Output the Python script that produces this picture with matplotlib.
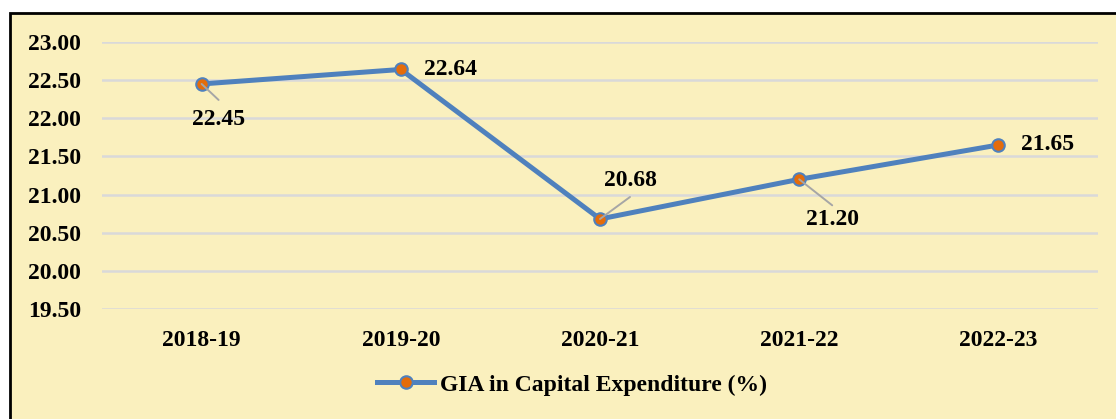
import matplotlib.pyplot as plt
from matplotlib.patches import Rectangle

years = ['2018-19', '2019-20', '2020-21', '2021-22', '2022-23']
gia_capex = [22.45, 22.64, 20.68, 21.20, 21.65]
y_ticks = [19.50, 20.00, 20.50, 21.00, 21.50, 22.00, 22.50, 23.00]

plt.rcParams['font.family'] = ['Liberation Serif', 'DejaVu Serif']
plt.rcParams['font.weight'] = 'bold'

bg = '#FAF0BE'
fs = 17
fig = plt.figure(figsize=(11.16, 4.19), dpi=100)

# framed chart area, drawn behind the axes
fig.patches.append(Rectangle((9.5 / 1116, -0.01), 1.0, 1 - 13.5 / 419 + 0.01,
                             transform=fig.transFigure, facecolor=bg,
                             edgecolor='black', linewidth=2, zorder=-10))

ax = fig.add_axes([102 / 1116, 1 - 309 / 419, 996 / 1116, 267 / 419])
ax.set_facecolor('none')

x = list(range(len(years)))
ax.plot(x, gia_capex, color='#4F81BD', linewidth=3.6, marker='o',
        markersize=9, markerfacecolor='#E46C0A', markeredgecolor='#4F81BD',
        markeredgewidth=1.5, label='GIA in Capital Expenditure (%)', zorder=3)

ax.set_xlim(-0.5, len(years) - 0.5)
ax.set_ylim(19.5, 23.0)
ax.set_yticks(y_ticks)
ax.set_yticklabels([f'{v:.2f}' for v in y_ticks])
ax.set_xticks(x)
ax.set_xticklabels(years)
ax.tick_params(length=0, labelsize=fs)
ax.tick_params(axis='y', pad=15)
ax.tick_params(axis='x', pad=15)
ax.grid(axis='y', color='#D9D9D9', linewidth=1.8)
ax.set_axisbelow(True)
for s in ax.spines.values():
    s.set_visible(False)

# data labels: text offset (px), leader line end offset (px) or None
pt = 72 / 100
label_text = [(17, -36), (23, 0), (30, 38), (33, -40), (23, 0)]
label_lead = [(17, -16), None, (30, 22), (33, -26), None]
for xi, v, (tx, ty), lead in zip(x, gia_capex, label_text, label_lead):
    ha = 'center' if lead else 'left'
    ax.annotate(f'{v:.2f}', (xi, v), xytext=(tx * pt, ty * pt),
                textcoords='offset points', ha=ha, va='center',
                fontsize=fs, fontweight='bold')
    if lead:
        ax.annotate('', (xi, v), xytext=(lead[0] * pt, lead[1] * pt),
                    textcoords='offset points',
                    arrowprops=dict(arrowstyle='-', color='#A6A6A6', lw=1.4,
                                    shrinkA=0, shrinkB=0))

leg = fig.legend(loc='center', bbox_to_anchor=(572 / 1116, 1 - 385 / 419), frameon=False,
                 prop={'size': fs, 'weight': 'bold'}, handlelength=2.4,
                 handletextpad=0.25)

fig.savefig('out.png', dpi=100, facecolor='white')
